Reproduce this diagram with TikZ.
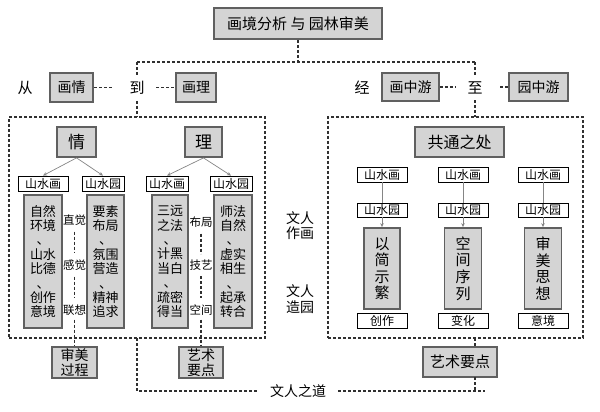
\documentclass[tikz,border=0pt]{standalone}
\usepackage{fontspec}
\setmainfont{Noto Sans CJK SC}
\usetikzlibrary{arrows.meta}
\definecolor{boxgray}{HTML}{D4D4D4}
\definecolor{edgegray}{HTML}{606060}
\definecolor{linegray}{HTML}{858585}
\definecolor{dashcol}{HTML}{303030}
\newcommand{\fs}[2]{\fontsize{#1}{#2}\selectfont}
\begin{document}
\begin{tikzpicture}[x=1pt,y=-1pt,
 graybox/.style={draw=edgegray, line width=1.8pt, fill=boxgray, inner sep=0pt, align=center},
 whitebox/.style={draw=black, line width=0.8pt, fill=white, inner sep=0pt, minimum height=15pt, font=\fs{12}{13}},
 dashln/.style={draw=dashcol, line width=1.1pt, dash pattern=on 3pt off 2pt},
 thinln/.style={draw=linegray, line width=0.7pt},
 arr/.style={thinln, -{Stealth[length=4pt,width=3.5pt]}},
 lbl/.style={inner sep=0pt, align=center},
 tallL/.style={graybox, minimum height=133pt, font=\fs{13}{14.4}},
 tallR/.style={graybox, minimum height=81pt, font=\fs{15}{16.6}},
 midw/.style={lbl, font=\fs{11.5}{13}}
]
\useasboundingbox (0,0) rectangle (600,412);

% top
\node[graybox, minimum width=168pt, minimum height=31pt, font=\fs{15}{16}] (top) at (298,23.5) {画境分析 与 园林审美};

% second row
\node[lbl, font=\fs{15}{16}] (cong) at (25,88) {从};
\node[graybox, minimum width=43pt, minimum height=29pt, font=\fs{14}{15}] (huaqing) at (71.5,87.5) {画情};
\node[lbl, font=\fs{15}{16}, inner sep=6pt] (dao) at (137,88) {到};
\node[graybox, minimum width=40pt, minimum height=29pt, font=\fs{14}{15}] (huali) at (196,87.5) {画理};
\node[lbl, font=\fs{15}{16}] (jing) at (362,88) {经};
\node[graybox, minimum width=57pt, minimum height=28pt, font=\fs{14}{15}] (hzy) at (410.5,87) {画中游};
\node[lbl, font=\fs{15}{16}, inner sep=6pt] (zhi) at (475,88) {至};
\node[graybox, minimum width=59pt, minimum height=28pt, font=\fs{14}{15}] (yzy) at (538.5,87) {园中游};

\coordinate (j0) at (298,62);
\coordinate (jl) at (137,62);
\coordinate (jr) at (475,62);
\draw[dashln] (top.south) -- (j0);
\draw[dashln] (jl) -- (jr);
\draw[dashln] (jl) -- (dao.north);
\draw[dashln] (jr) -- (zhi.north);
\coordinate (d1) at (112,87.5);
\coordinate (d2) at (156,87.5);
\coordinate (d3) at (455,87);
\coordinate (d4) at (500,87);
\draw[dashln] (huaqing.east) -- (d1);
\draw[dashln] (d2) -- (huali.west);
\draw[dashln] (hzy.east) -- (d3);
\draw[dashln] (d4) -- (yzy.west);

% big dashed boxes
\node[dashln, minimum width=256pt, minimum height=221pt, inner sep=0pt] (lbox) at (137,227.5) {};
\node[dashln, minimum width=255pt, minimum height=221pt, inner sep=0pt] (rbox) at (455.5,227.5) {};
\coordinate (rtop) at (475,117);
\draw[dashln] (dao.south) -- (lbox.north);
\draw[dashln] (zhi.south) -- (rtop);

% left content
\node[graybox, minimum width=39pt, minimum height=30pt, font=\fs{17}{18}] (qing) at (76.5,142) {情};
\node[graybox, minimum width=37pt, minimum height=30pt, font=\fs{17}{18}] (li) at (203.5,142) {理};

\node[whitebox, minimum width=50pt] (sh1) at (43,183.5) {山水画};
\node[whitebox, minimum width=42pt] (sy1) at (103,183.5) {山水园};
\node[whitebox, minimum width=42pt] (sh2) at (167,183.5) {山水画};
\node[whitebox, minimum width=42pt] (sy2) at (231,183.5) {山水园};

\draw[arr] (qing.south) -- (sh1.north);
\draw[arr] (qing.south) -- (sy1.north);
\draw[arr] (li.south) -- (sh2.north);
\draw[arr] (li.south) -- (sy2.north);

\node[tallL, minimum width=38pt] (t1) at (43,261.5) {自然\\环境\\、\\山水\\比德\\、\\创作\\意境};
\node[tallL, minimum width=37pt] (t2) at (105.5,261.5) {要素\\布局\\、\\氛围\\营造\\、\\精神\\追求};
\node[tallL, minimum width=36pt] (t3) at (170,261.5) {三远\\之法\\、\\计黑\\当白\\、\\疏密\\得当};
\node[tallL, minimum width=38pt] (t4) at (233,261.5) {师法\\自然\\、\\虚实\\相生\\、\\起承\\转合};

\node[midw] (zj) at (74.5,220) {直觉};
\node[midw] (gj) at (74.5,265) {感觉};
\node[midw] (lx) at (74.5,310) {联想};
\node[midw] (bj) at (201,222) {布局};
\node[midw] (jy) at (201,265) {技艺};
\node[midw] (kj) at (201,310) {空间};
\draw[dashln, shorten <=6pt, shorten >=6pt] (zj.south) -- (gj.north);
\draw[dashln, shorten <=6pt, shorten >=6pt] (gj.south) -- (lx.north);
\draw[dashln, shorten <=6pt, shorten >=6pt] (bj.south) -- (jy.north);
\draw[dashln, shorten <=6pt, shorten >=6pt] (jy.south) -- (kj.north);

\node[graybox, minimum width=45pt, minimum height=31pt, font=\fs{14}{15}] (smgc) at (74.5,362.5) {审美\\过程};
\node[graybox, minimum width=44pt, minimum height=31pt, font=\fs{14}{15}] (ysyd) at (201,362.5) {艺术\\要点};
\draw[dashln, shorten <=4pt] (lx.south) -- (smgc.north);
\draw[dashln, shorten <=4pt] (kj.south) -- (ysyd.north);

% middle texts
\node[lbl, font=\fs{14}{15.5}] (wrzh) at (300,225.5) {文人\\作画};
\node[lbl, font=\fs{14}{15.5}] (wrzy) at (300,299) {文人\\造园};

% right content
\node[graybox, minimum width=89pt, minimum height=30pt, font=\fs{16}{17}] (gt) at (459.5,142) {共通之处};

\node[whitebox, minimum width=50pt] (rh1) at (382,174.5) {山水画};
\node[whitebox, minimum width=50pt] (rh2) at (463,174.5) {山水画};
\node[whitebox, minimum width=50pt] (rh3) at (543,174.5) {山水画};
\node[whitebox, minimum width=50pt, minimum height=14pt] (ry1) at (382,210) {山水园};
\node[whitebox, minimum width=50pt, minimum height=14pt] (ry2) at (463,210) {山水园};
\node[whitebox, minimum width=50pt, minimum height=14pt] (ry3) at (543,210) {山水园};

\node[tallR, minimum width=36pt] (r1) at (382,268.5) {以\\简\\示\\繁};
\node[tallR, minimum width=37pt] (r2) at (463,268.5) {空\\间\\序\\列};
\node[tallR, minimum width=37pt] (r3) at (543,268.5) {审\\美\\思\\想};

\draw[thinln] (rh1.south) -- (ry1.north);
\draw[thinln] (rh2.south) -- (ry2.north);
\draw[thinln] (rh3.south) -- (ry3.north);
\draw[arr] (ry1.south) -- (r1.north);
\draw[arr] (ry2.south) -- (r2.north);
\draw[arr] (ry3.south) -- (r3.north);

\node[whitebox, minimum width=50pt] (c1) at (382,320.5) {创作};
\node[whitebox, minimum width=50pt] (c2) at (463,320.5) {变化};
\node[whitebox, minimum width=50pt] (c3) at (543,320.5) {意境};

\node[graybox, minimum width=74pt, minimum height=30pt, font=\fs{15}{16}] (ysydR) at (460,362) {艺术要点};
\coordinate (rb1) at (475,338);
\coordinate (rb2) at (475,347);
\coordinate (rb3) at (475,377);
\coordinate (rb4) at (475,391);
\draw[dashln] (rb1) -- (rb2);
\draw[dashln] (rb3) -- (rb4);

% bottom
\node[lbl, font=\fs{14}{15}] (wrzd) at (298,391) {文人之道};
\coordinate (lb1) at (137,338);
\coordinate (lb2) at (137,391);
\coordinate (lb3) at (258,391);
\coordinate (lb4) at (338,391);
\coordinate (lb5) at (485,391);
\draw[dashln] (lb1) -- (lb2) -- (lb3);
\draw[dashln] (lb4) -- (lb5);
\end{tikzpicture}
\end{document}
